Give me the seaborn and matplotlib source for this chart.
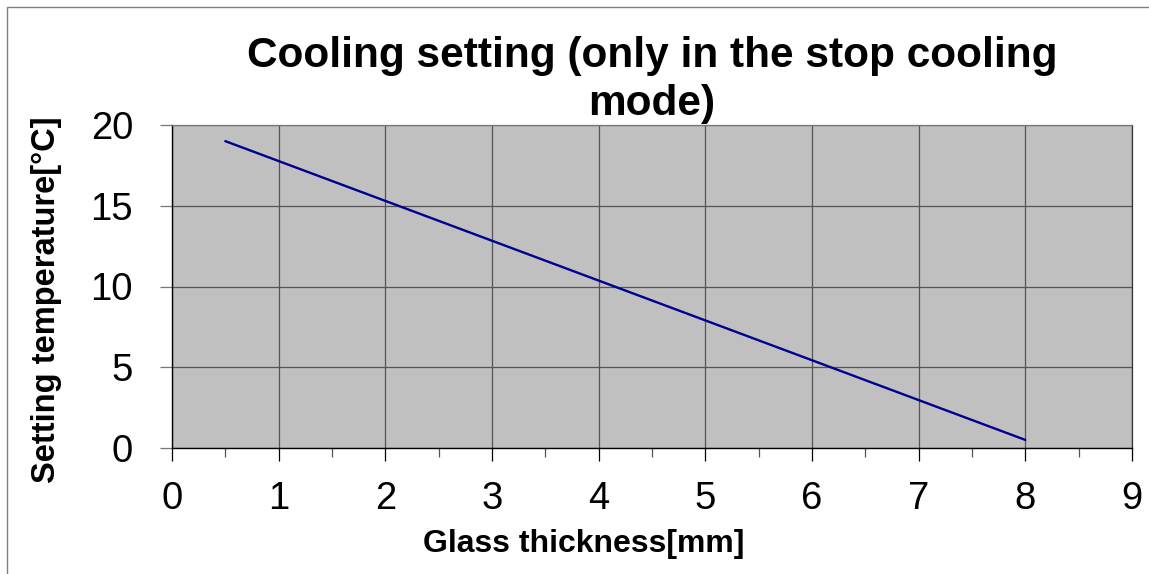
import matplotlib
matplotlib.use("Agg")
import matplotlib.pyplot as plt
from matplotlib.patches import Rectangle
from matplotlib.ticker import MultipleLocator
import seaborn as sns
import pandas as pd

thickness_mm = [0.5, 8.0]
setting_temp_c = [19.0, 0.5]

sns.set_style("white")
plt.rcParams['font.family'] = ['Liberation Sans', 'DejaVu Sans']
plt.rcParams['text.color'] = 'black'
plt.rcParams['axes.labelcolor'] = 'black'
plt.rcParams['xtick.color'] = 'black'
plt.rcParams['ytick.color'] = 'black'

df = pd.DataFrame({"thickness": thickness_mm, "temp": setting_temp_c})

fig = plt.figure(figsize=(11.49, 5.74), dpi=100)
ax = fig.add_axes([172/1149, 1-448/574, (1132-172)/1149, (448-125)/574])
ax.set_facecolor("#C0C0C0")

sns.lineplot(data=df, x="thickness", y="temp", ax=ax, color="#000090", linewidth=1.7)

ax.set_xlim(0, 9)
ax.set_ylim(0, 20)
ax.xaxis.set_major_locator(MultipleLocator(1))
ax.xaxis.set_minor_locator(MultipleLocator(0.5))
ax.yaxis.set_major_locator(MultipleLocator(5))
ax.grid(True, which="major", color="#555555", linewidth=0.9)
ax.set_axisbelow(True)

ax.tick_params(axis="x", which="major", direction="out", length=9, width=0.9, color="black",
               labelcolor="black", labelsize=27.5, pad=14.5, bottom=True)
ax.tick_params(axis="x", which="minor", direction="out", length=6.5, width=0.9, color="#555555", bottom=True)
ax.tick_params(axis="y", which="major", direction="out", length=9, width=0.9, color="#777777",
               labelcolor="black", labelsize=27.5, pad=19, left=True)

for side in ["left", "bottom"]:
    ax.spines[side].set_color("black")
    ax.spines[side].set_linewidth(1.0)
ax.spines["top"].set_color("#777777")
ax.spines["right"].set_color("#333333")
for side in ["top", "right"]:
    ax.spines[side].set_visible(True)
    ax.spines[side].set_linewidth(0.9)

ax.set_xlabel("Glass thickness[mm]", fontsize=23, fontweight="bold", color="black")
ax.set_ylabel("Setting temperature[°C]", fontsize=23.5, fontweight="bold", color="black")
ax.xaxis.label.set_va("center")
ax.yaxis.label.set_va("center")
ax.xaxis.set_label_coords((584-172)/960, (448-544)/323)
ax.yaxis.set_label_coords((46-172)/960, (448-300)/323)
ax.set_title("Cooling setting (only in the stop cooling\nmode)", fontsize=30.5, fontweight="bold",
             pad=7.5, linespacing=1.25, color="black")

fig.patches.append(Rectangle((7/1149, -0.1), 1.2, (1-7/574)+0.1, transform=fig.transFigure,
                             fill=False, edgecolor="#808080", linewidth=1.0))

fig.savefig("out.png", dpi=100)
